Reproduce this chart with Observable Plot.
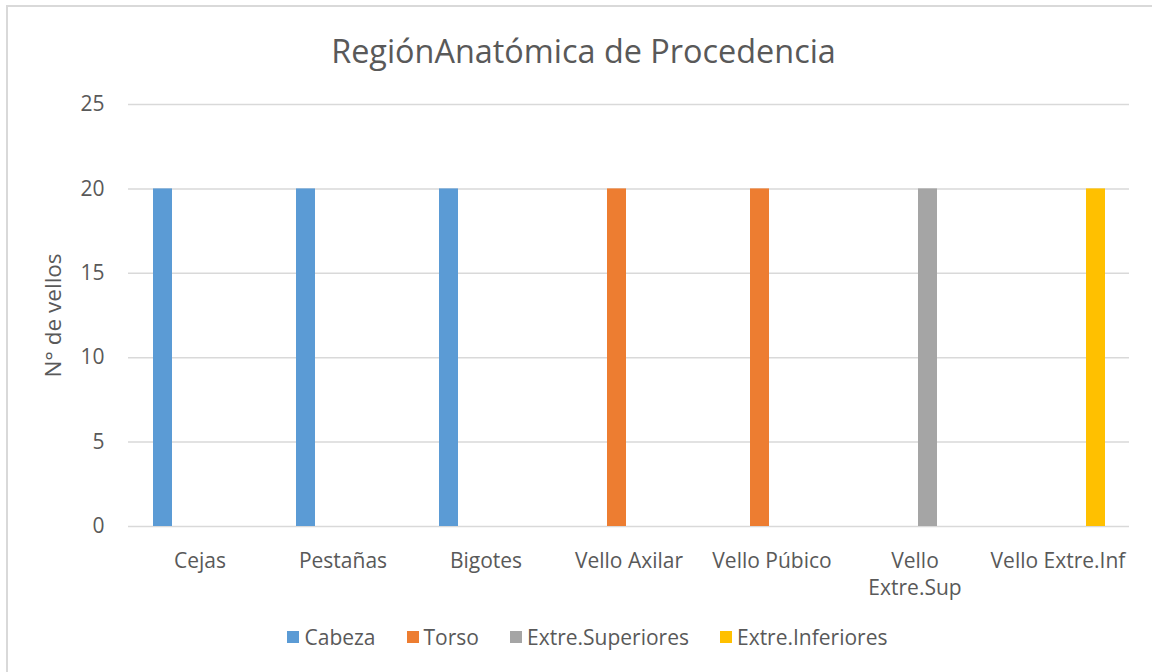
<!DOCTYPE html>
<html><head><meta charset="utf-8">
<script src="https://cdn.jsdelivr.net/npm/d3@7"></script>
<script src="https://cdn.jsdelivr.net/npm/@observablehq/plot@0.6"></script>
<style>
body{margin:0;background:#fff;font-family:"Open Sans",sans-serif;width:1152px;height:672px;overflow:hidden;position:relative;}
#frame{position:absolute;left:6px;top:5px;width:1170px;height:690px;border:2px solid #d9d9d9;box-sizing:border-box;}
#title{position:absolute;left:0;top:30px;width:1167px;text-align:center;font-size:32.4px;color:#595959;line-height:40px;}
#chart{position:absolute;left:0;top:0;}
#legend{position:absolute;left:0;top:620px;width:1175px;}
#legend > div{justify-content:center;}
#legend span{margin-right:31px !important;}
#legend span:last-child{margin-right:0 !important;}
#legend span > svg{margin-right:5px !important;}
</style></head>
<body>
<div id="frame"></div>
<div id="chart"></div>
<div id="title">RegiónAnatómica de Procedencia</div>
<div id="legend"></div>
<script>
const categories = ["Cejas","Pestañas","Bigotes","Vello Axilar","Vello Púbico","Vello Extre.Sup","Vello Extre.Inf"];
const series = ["Cabeza","Torso","Extre.Superiores","Extre.Inferiores"];
const cabeza = [20,20,20,0,0,0,0];
const torso = [0,0,0,20,20,0,0];
const extreSuperiores = [0,0,0,0,0,20,0];
const extreInferiores = [0,0,0,0,0,0,20];
const colors = ["#5B9BD5","#ED7D31","#A5A5A5","#FFC000"];
const yTicks = [0,5,10,15,20,25];
const yLabel = "N° de vellos";

const seriesValues = [cabeza, torso, extreSuperiores, extreInferiores];
const rows = series.flatMap((s,i) => categories.map((c,j) => ({category:c, series:s, value:seriesValues[i][j]})));

const plot = Plot.plot({
  width:1152, height:600,
  marginLeft:127, marginRight:22, marginTop:104, marginBottom:74,
  style:{fontFamily:"Open Sans", fontSize:"21px", color:"#595959", background:"transparent", overflow:"visible"},
  fx:{domain:categories, padding:0},
  x:{domain:series, paddingInner:0.24, paddingOuter:0.88, axis:null},
  y:{domain:[0,25]},
  color:{domain:series, range:colors},
  marks:[
    Plot.gridY(yTicks,{stroke:"#d9d9d9", strokeOpacity:1, strokeWidth:1.5}),
    Plot.barY(rows,{fx:"category", x:"series", y:"value", fill:"series"}),
    Plot.axisY(yTicks,{tickSize:0, tickPadding:24, label:null, fill:"#595959"}),
    Plot.axisY({ticks:[], tickSize:0, label:yLabel, labelAnchor:"center", labelOffset:83, labelArrow:"none", fill:"#595959", fontSize:22.5}),
    Plot.axisFx({anchor:"bottom", tickSize:0, tickPadding:22, label:null, lineHeight:1.3, fill:"#595959",
      tickFormat: d => d === "Vello Extre.Sup" ? "Vello\nExtre.Sup" : d})
  ]
});
document.getElementById("chart").appendChild(plot);

const legend = Plot.legend({color:{domain:series, range:colors}, swatchSize:12,
  style:{fontFamily:"Open Sans", fontSize:"21px", color:"#595959", background:"transparent"}});
document.getElementById("legend").appendChild(legend);
</script>
</body></html>
